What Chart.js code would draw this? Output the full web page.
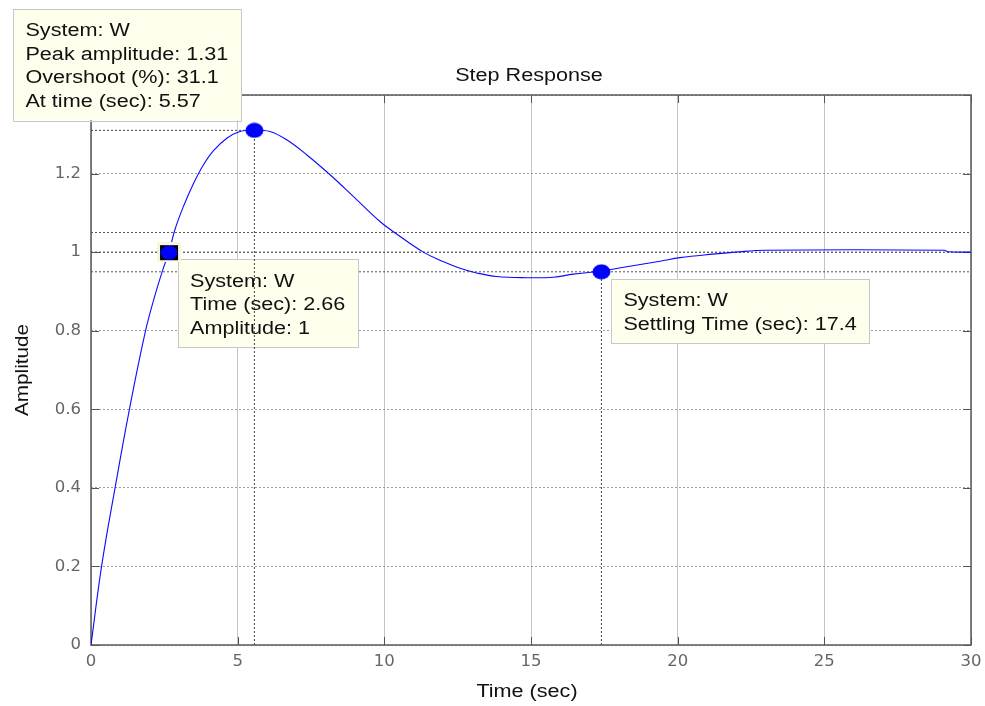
<!DOCTYPE html>
<html><head><meta charset="utf-8">
<script src="https://cdn.jsdelivr.net/npm/chart.js@4"></script>
<style>html,body{margin:0;padding:0;background:#fff;overflow:hidden}</style>
</head><body>
<canvas id="c" width="985" height="706"></canvas>
<script>
// ---- data ----
const timeSec = [0, 0.36, 0.82, 1.31, 1.86, 2.2, 2.47, 2.66, 2.86, 3.15, 3.49, 3.83, 4.17, 4.63, 5.08, 5.57, 6.10, 6.67, 7.35, 8.15, 8.94, 9.85, 10.31, 11.33, 12.0, 12.58, 13.15, 13.83, 14.85, 15.76, 16.44, 17.4, 18.26, 19.4, 20.08, 21.2, 21.96, 22.98, 29.1, 29.2, 30];
const amplitude = [0, 0.2, 0.4, 0.6, 0.8, 0.895, 0.96, 1.0, 1.057, 1.116, 1.174, 1.222, 1.258, 1.29, 1.307, 1.311, 1.307, 1.286, 1.248, 1.197, 1.142, 1.078, 1.052, 1.0, 0.976, 0.959, 0.947, 0.938, 0.935, 0.936, 0.944, 0.952, 0.963, 0.977, 0.986, 0.995, 1.0, 1.005, 1.005, 1.001, 1.0];
const xTickValues = [0, 5, 10, 15, 20, 25, 30];
const yTickValues = [0, 0.2, 0.4, 0.6, 0.8, 1, 1.2, 1.4];
const systemName = 'W';
const peakTime = 5.57, peakAmp = 1.31, overshootPct = 31.1;
const tipTime = 2.66, tipAmp = 1;
const settleTime = 17.4, settleAmp = 0.95;
const bandLow = 0.95, bandHigh = 1.05, finalValue = 1;
const xMin = 0, xMax = 30, yMin = 0, yMax = 1.4;

const SX = 1.2;
const TXT_FONT = '18px "Liberation Sans", Arial, sans-serif';

function ellipseImg(w, h, color) {
  const c = document.createElement('canvas'); c.width = w; c.height = h;
  const g = c.getContext('2d'); g.fillStyle = color;
  g.beginPath(); g.ellipse(w/2, h/2, w/2 - 0.5, h/2 - 0.5, 0, 0, 2*Math.PI); g.fill();
  return c;
}
function tipImg() {
  const c = document.createElement('canvas'); c.width = 24; c.height = 20;
  const g = c.getContext('2d');
  g.fillStyle = '#f6f6dc'; g.fillRect(0, 0, 24, 20);
  g.fillStyle = '#000'; g.fillRect(3, 3, 18, 15);
  g.fillStyle = '#0000ff'; g.beginPath(); g.ellipse(12, 10.5, 8.3, 7, 0, 0, 2*Math.PI); g.fill();
  return c;
}
const peakMarker = ellipseImg(19, 16, '#0000ff');
const settleMarker = ellipseImg(19, 16, '#0000ff');
const tipMarker = tipImg();

const curve = timeSec.map((t, i) => ({x: t, y: amplitude[i]}));
const refStyle = (data, color) => ({
  data, borderColor: color, borderWidth: 1, borderDash: [2, 2], pointRadius: 0, fill: false, tension: 0
});

const PEAKV_INDEX = 2;
const datasets = [
  { data: [{x: tipTime, y: tipAmp}, {x: peakTime, y: peakAmp}, {x: settleTime, y: settleAmp}],
    showLine: false, pointStyle: [tipMarker, peakMarker, settleMarker], pointRadius: 9, borderWidth: 0 },
  { data: curve, borderColor: '#0a0aff', borderWidth: 1.1, pointRadius: 0, fill: false, tension: 0.4 },
  refStyle([{x: peakTime, y: yMin}, {x: peakTime, y: peakAmp}], '#444'),
  refStyle([{x: xMin, y: peakAmp}, {x: peakTime, y: peakAmp}], '#444'),
  refStyle([{x: settleTime, y: yMin}, {x: settleTime, y: settleAmp}], '#444'),
  refStyle([{x: xMin, y: bandHigh}, {x: xMax, y: bandHigh}], '#555'),
  refStyle([{x: xMin, y: bandLow}, {x: xMax, y: bandLow}], '#555'),
  refStyle([{x: xMin, y: finalValue}, {x: xMax, y: finalValue}], '#444')
];

function sText(ctx, str, x, y, sx, align) {
  ctx.save(); ctx.translate(x, y); ctx.scale(sx, 1); ctx.textAlign = align || 'left';
  ctx.fillText(str, 0, 0); ctx.restore();
}
function drawTip(ctx, lines, left, top, anchorRight) {
  ctx.save();
  ctx.font = TXT_FONT;
  const w = Math.max(...lines.map(s => ctx.measureText(s).width)) * SX + 25;
  const h = 17 + lines.length * 23.7;
  const L = anchorRight ? left - w : left;
  const T = anchorRight ? top - h : top;
  ctx.fillStyle = '#ffffed'; ctx.fillRect(L, T, w, h);
  ctx.strokeStyle = '#c8c8c8'; ctx.lineWidth = 1; ctx.strokeRect(Math.round(L) + 0.5, Math.round(T) + 0.5, Math.round(w), Math.round(h));
  ctx.fillStyle = '#111'; ctx.textBaseline = 'alphabetic';
  lines.forEach((s, i) => sText(ctx, s, L + 12, T + 27.5 + i * 23.7, SX, 'left'));
  ctx.restore();
}

const deco = {
  id: 'deco',
  beforeDatasetsDraw(chart) {
    const {ctx, chartArea: a, scales: {x, y}} = chart;
    ctx.save();
    ctx.strokeStyle = '#555'; ctx.lineWidth = 1;
    const tl = 8;
    ctx.beginPath();
    xTickValues.forEach(v => { const px = Math.round(x.getPixelForValue(v)) + 0.5;
      ctx.moveTo(px, a.bottom); ctx.lineTo(px, a.bottom - tl);
      ctx.moveTo(px, a.top); ctx.lineTo(px, a.top + tl); });
    yTickValues.forEach(v => { const py = Math.round(y.getPixelForValue(v)) + 0.5;
      ctx.moveTo(a.left, py); ctx.lineTo(a.left + tl, py);
      ctx.moveTo(a.right, py); ctx.lineTo(a.right - tl, py); });
    ctx.stroke();
    ctx.strokeStyle = '#5a5a5a'; ctx.lineWidth = 1.5;
    ctx.strokeRect(a.left, a.top, a.right - a.left, a.bottom - a.top);
    ctx.restore();
  },
  beforeDatasetDraw(chart, args) {
    if (args.index !== PEAKV_INDEX) return;
    const {ctx, scales: {x, y}} = chart;
    const pX = x.getPixelForValue(peakTime), pY = y.getPixelForValue(peakAmp);
    const tX = x.getPixelForValue(tipTime), tY = y.getPixelForValue(tipAmp);
    const sXp = x.getPixelForValue(settleTime), sYp = y.getPixelForValue(settleAmp);
    drawTip(ctx, ['System: ' + systemName, 'Time (sec): ' + tipTime, 'Amplitude: ' + tipAmp], tX + 9, tY + 7, false);
    drawTip(ctx, ['System: ' + systemName, 'Settling Time (sec): ' + settleTime], sXp + 10, sYp + 7, false);
    drawTip(ctx, ['System: ' + systemName, 'Peak amplitude: ' + peakAmp, 'Overshoot (%): ' + overshootPct, 'At time (sec): ' + peakTime], pX - 13, pY - 10, true);
  },
  afterDraw(chart) {
    const {ctx, chartArea: a} = chart;
    ctx.save();
    ctx.font = TXT_FONT; ctx.fillStyle = '#111'; ctx.textBaseline = 'alphabetic';
    const cx = (a.left + a.right) / 2;
    sText(ctx, 'Step Response', cx - 2, 80.5, SX, 'center');
    sText(ctx, 'Time (sec)', cx - 4, 697, SX, 'center');
    ctx.translate(28, (a.top + a.bottom) / 2);
    ctx.rotate(-Math.PI / 2);
    sText(ctx, 'Amplitude', 0, 0, 1.15, 'center');
    ctx.restore();
  }
};

new Chart(document.getElementById('c').getContext('2d'), {
  type: 'line',
  data: { datasets },
  plugins: [deco],
  options: {
    responsive: false, animation: false, devicePixelRatio: 1,
    layout: { padding: { top: 95, right: 14, left: 0, bottom: 0 } },
    plugins: { legend: { display: false }, tooltip: { enabled: false }, title: { display: false } },
    scales: {
      x: {
        type: 'linear', min: xMin, max: xMax,
        afterFit(s) { s.height = 61; s.paddingRight = 0; s.paddingLeft = 0; },
        afterBuildTicks(s) { s.ticks = xTickValues.map(v => ({value: v})); },
        ticks: { font: { family: '"DejaVu Sans"', size: 16.5 }, color: '#666', padding: 7, maxRotation: 0, autoSkip: false,
                 callback: v => String(v) },
        grid: { color: '#c4c4c4', lineWidth: 1, drawTicks: false },
        border: { display: false }
      },
      y: {
        type: 'linear', min: yMin, max: yMax,
        afterFit(s) { s.width = 91; },
        afterBuildTicks(s) { s.ticks = yTickValues.map(v => ({value: v})); },
        ticks: { font: { family: '"DejaVu Sans"', size: 16.5 }, color: '#666', padding: 10, autoSkip: false,
                 callback: v => String(Math.round(v * 10) / 10) },
        grid: { color: '#9c9c9c', lineWidth: 1, drawTicks: false },
        border: { display: false, dash: [2, 2] }
      }
    }
  }
});
</script>
</body></html>
